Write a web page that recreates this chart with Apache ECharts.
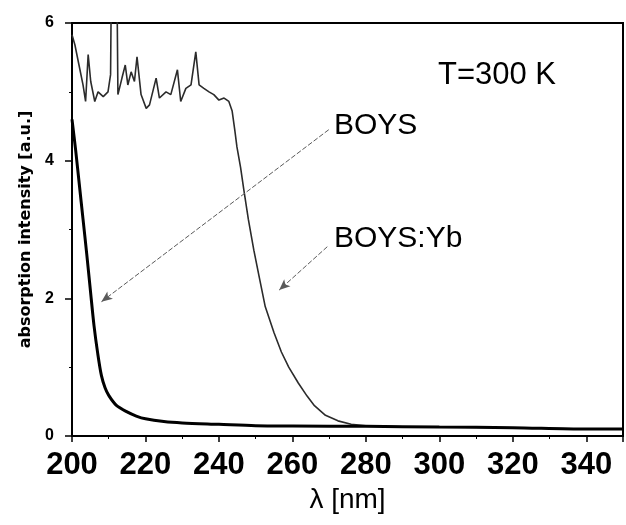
<!DOCTYPE html>
<html>
<head>
<meta charset="utf-8">
<script src="https://cdn.jsdelivr.net/npm/echarts@6/dist/echarts.min.js"></script>
<style>
  html, body { margin: 0; padding: 0; background: #fff; }
  #chart { width: 626px; height: 525px; }
</style>
</head>
<body>
<div id="chart"></div>
<script>
// ---- data ----
const boysX = [200, 201, 202, 203, 204, 205, 206, 207, 208, 209, 210, 212, 215, 217.5, 220, 225, 230, 240, 250, 260, 280, 300, 320, 340, 350];
const boysY = [4.6, 4.15, 3.65, 3.15, 2.65, 2.12, 1.6, 1.2, 0.88, 0.7, 0.59, 0.45, 0.35, 0.29, 0.25, 0.21, 0.19, 0.17, 0.15, 0.145, 0.14, 0.13, 0.12, 0.1, 0.1];

const ybX = [200, 200.8, 201.9, 203, 203.7, 204.4, 205.1, 206.2, 207.1, 208.5, 209.8, 210.5, 210.75, 212.2, 212.5, 213.6, 214.5, 215.2, 216.1, 217, 217.7, 218.8, 220.2, 221.1, 222.9, 223.8, 225.6, 226.9, 228.7, 229.6, 231, 232.4, 233.7, 234.6, 235.9, 237.3, 238.6, 240, 241.4, 242.7, 243.6, 244.3, 244.9, 245.9, 246.8, 248, 249.5, 251, 252.6, 255, 257, 259, 261.6, 264, 266, 269, 272.4, 276, 280, 290, 300, 320, 340, 350];
const ybY = [5.83, 5.68, 5.39, 5.10, 4.86, 5.54, 5.15, 4.86, 5.0, 4.93, 5.0, 5.25, 6.8, 6.8, 4.96, 5.2, 5.39, 5.10, 5.29, 5.15, 5.51, 4.96, 4.76, 4.81, 5.2, 4.91, 5.0, 4.96, 5.32, 4.86, 5.05, 5.10, 5.58, 5.10, 5.05, 5.0, 4.96, 4.88, 4.91, 4.86, 4.72, 4.45, 4.2, 3.9, 3.57, 3.15, 2.7, 2.3, 1.88, 1.5, 1.22, 1.0, 0.77, 0.58, 0.44, 0.3, 0.22, 0.17, 0.15, 0.135, 0.13, 0.12, 0.1, 0.1];

const xTicks = [200, 220, 240, 260, 280, 300, 320, 340];
const yTicks = [0, 2, 4, 6];

// annotation arrows (data coordinates: start -> end)
const arrowBoys = [[269.9, 4.45], [208.0, 1.95]];
const arrowYb = [[269.5, 2.75], [256.4, 2.12]];

const FONT = '"Liberation Sans", Arial, sans-serif';

const chart = echarts.init(document.getElementById('chart'));
const pairs = (xs, ys) => xs.map((x, i) => [x, ys[i]]);

const arrowLine = (seg) => ({
  silent: true,
  symbol: ['none', 'arrow'],
  symbolSize: [7, 11],
  label: { show: false },
  lineStyle: { color: '#5a5a5a', width: 1, type: [5, 2] },
  emphasis: { disabled: true },
  data: [[{ coord: seg[0], symbol: 'none' }, { coord: seg[1], symbol: 'arrow' }]]
});

chart.setOption({
  animation: false,
  backgroundColor: '#fff',
  grid: { left: 72, right: 1, top: 23, bottom: 89, show: true, borderColor: '#000', borderWidth: 2, backgroundColor: 'transparent' },
  xAxis: {
    type: 'value', min: 200, max: 350, interval: 20,
    name: 'λ [nm]', nameLocation: 'middle', nameGap: 48,
    nameTextStyle: { fontFamily: FONT, fontSize: 28, color: '#000' },
    axisLine: { lineStyle: { color: '#000', width: 2 } },
    axisTick: { show: true, length: 6, inside: false, lineStyle: { color: '#000', width: 1.5 } },
    minorTick: { show: true, splitNumber: 2, length: 3, lineStyle: { color: '#000', width: 1 } },
    splitLine: { show: false },
    axisLabel: {
      fontFamily: FONT, fontSize: 31, fontWeight: 'bold', color: '#000', margin: 14,
      formatter: v => xTicks.includes(v) ? String(v) : ''
    }
  },
  yAxis: {
    type: 'value', min: 0, max: 6, interval: 2,
    name: 'absorption intensity [a.u.]', nameLocation: 'middle', nameGap: 37, nameRotate: 90,
    nameTextStyle: { fontFamily: '"DejaVu Sans", ' + FONT, fontSize: 16, fontWeight: 'bold', color: '#000' },
    axisLine: { lineStyle: { color: '#000', width: 2 } },
    axisTick: { show: true, length: 7, inside: false, lineStyle: { color: '#000', width: 1.5 } },
    minorTick: { show: true, splitNumber: 2, length: 3, lineStyle: { color: '#000', width: 1 } },
    splitLine: { show: false },
    axisLabel: {
      fontFamily: FONT, fontSize: 16, fontWeight: 'bold', color: '#000', margin: 18,
      formatter: v => yTicks.includes(v) ? String(v) : ''
    }
  },
  series: [
    {
      name: 'BOYS:Yb', type: 'line', data: pairs(ybX, ybY), showSymbol: false, smooth: false,
      clip: true,
      lineStyle: { color: '#2b2b2b', width: 1.6 },
      markLine: arrowLine(arrowYb)
    },
    {
      name: 'BOYS', type: 'line', data: pairs(boysX, boysY), showSymbol: false, smooth: 0.3,
      clip: true,
      lineStyle: { color: '#000', width: 3 },
      markLine: arrowLine(arrowBoys)
    }
  ],
  graphic: [
    { type: 'text', left: 438, top: 60, style: { text: 'T=300 K', fontFamily: FONT, fontSize: 31, fill: '#000' } },
    { type: 'text', left: 334, top: 111, style: { text: 'BOYS', fontFamily: FONT, fontSize: 30, fill: '#000' } },
    { type: 'text', left: 334, top: 224, style: { text: 'BOYS:Yb', fontFamily: FONT, fontSize: 30, fill: '#000' } }
  ]
});
</script>
</body>
</html>
